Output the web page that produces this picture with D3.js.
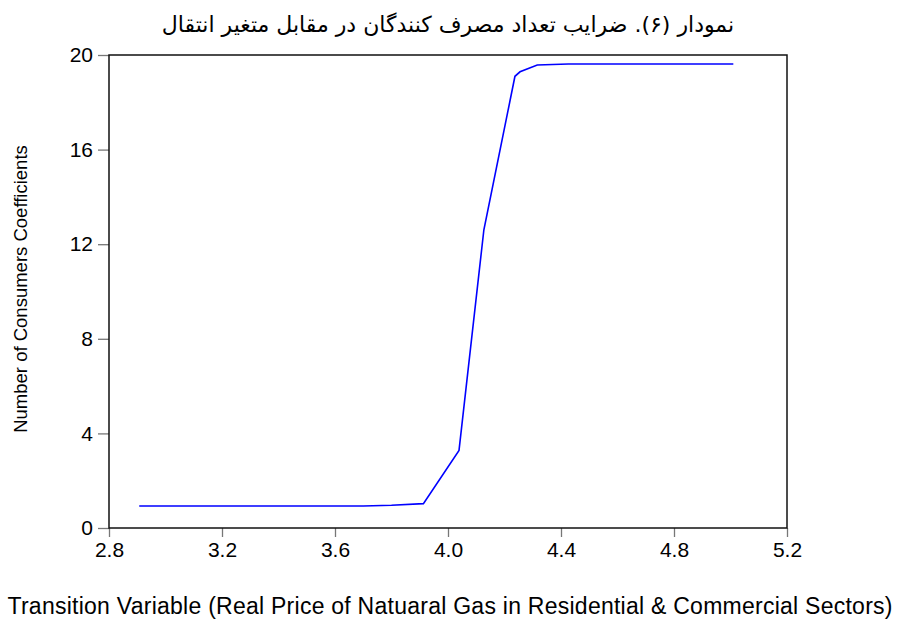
<!DOCTYPE html>
<html>
<head>
<meta charset="utf-8">
<script src="https://cdn.jsdelivr.net/npm/d3@7"></script>
<style>
  html, body { margin: 0; padding: 0; background: #fff; }
  svg { display: block; }
</style>
</head>
<body>
<svg id="chart" width="901" height="622"></svg>
<script>
// Transition variable (x) and coefficient estimates (y)
const transitionValues = [2.907, 3.70, 3.80, 3.913, 4.039, 4.127, 4.237, 4.255, 4.316, 4.426, 5.010];
const coefficientValues = [0.93, 0.93, 0.96, 1.03, 3.28, 12.61, 19.10, 19.29, 19.58, 19.62, 19.62];
const xTicks = [2.8, 3.2, 3.6, 4.0, 4.4, 4.8, 5.2];
const yTicks = [0, 4, 8, 12, 16, 20];

const titleText = "نمودار (۶).  ضرایب تعداد مصرف کنندگان در مقابل متغیر انتقال";
const xTitle = "Transition Variable (Real Price of Natuaral Gas in Residential & Commercial Sectors)";
const yTitle = "Number of Consumers Coefficients";

const svg = d3.select("#chart");
const plot = { left: 109, right: 787, top: 55, bottom: 528 };

const x = d3.scaleLinear().domain([2.8, 5.2]).range([plot.left, plot.right]);
const y = d3.scaleLinear().domain([0, 20]).range([plot.bottom, plot.top]);

const tickFont = "Liberation Sans, Arial, sans-serif";

// x axis
const xAxis = svg.append("g")
  .attr("transform", `translate(0,${plot.bottom})`)
  .call(d3.axisBottom(x).tickValues(xTicks).tickFormat(d3.format(".1f")).tickSize(9).tickPadding(5));
xAxis.select(".domain").remove();
xAxis.selectAll(".tick line").attr("stroke", "#777").attr("stroke-width", 1.3);
xAxis.selectAll(".tick text").attr("font-family", tickFont).attr("font-size", 21).attr("fill", "#000");

// y axis
const yAxis = svg.append("g")
  .attr("transform", `translate(${plot.left},0)`)
  .call(d3.axisLeft(y).tickValues(yTicks).tickFormat(d3.format("d")).tickSize(11).tickPadding(5));
yAxis.select(".domain").remove();
yAxis.selectAll(".tick line").attr("stroke", "#777").attr("stroke-width", 1.3);
yAxis.selectAll(".tick text").attr("font-family", tickFont).attr("font-size", 21).attr("fill", "#000");

// plot frame
svg.append("rect")
  .attr("x", plot.left).attr("y", plot.top)
  .attr("width", plot.right - plot.left).attr("height", plot.bottom - plot.top)
  .attr("fill", "none").attr("stroke", "#111").attr("stroke-width", 1.5);

// coefficient line
const line = d3.line()
  .x((d, i) => x(transitionValues[i]))
  .y(d => y(d));
svg.append("path")
  .datum(coefficientValues)
  .attr("d", line)
  .attr("fill", "none")
  .attr("stroke", "#0000ff")
  .attr("stroke-width", 1.6);

// titles
svg.append("text")
  .attr("x", 448).attr("y", 32)
  .attr("text-anchor", "middle")
  .attr("direction", "rtl")
  .attr("font-family", "DejaVu Sans, sans-serif")
  .attr("font-size", 22)
  .text(titleText);

svg.append("text")
  .attr("x", 450).attr("y", 614)
  .attr("text-anchor", "middle")
  .attr("font-family", tickFont)
  .attr("font-size", 23)
  .attr("textLength", 885)
  .attr("lengthAdjust", "spacing")
  .text(xTitle);

svg.append("text")
  .attr("transform", "translate(27,289) rotate(-90)")
  .attr("text-anchor", "middle")
  .attr("font-family", tickFont)
  .attr("font-size", 18.5)
  .text(yTitle);
</script>
</body>
</html>
